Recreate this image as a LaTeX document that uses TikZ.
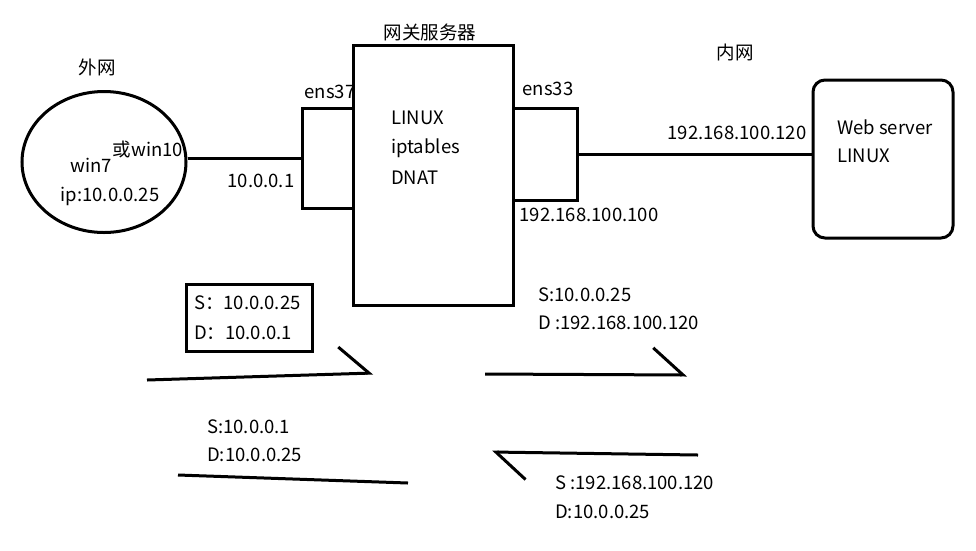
\documentclass[tikz,border=0pt]{standalone}
\usepackage{fontspec}
\setmainfont{Noto Sans CJK SC}
\usetikzlibrary{arrows.meta,positioning,shapes.geometric}

\begin{document}
\begin{tikzpicture}[x=1pt,y=-1pt,
    box/.style={draw, line width=3pt, inner sep=0pt},
    wire/.style={line width=3pt},
    flow/.style={line width=3pt, -{Straight Barb[left,length=30pt,width=54pt]}},
    lbl/.style={font=\fontsize{18.5}{20}\selectfont, inner sep=1pt}]
    \useasboundingbox[fill=white] (0,0) rectangle (976,550);

    % outside host
    \node[box, ellipse, minimum width=164, minimum height=141] (client) at (104,162) {};
    \node[lbl] (netout) at (97,67) {外网};
    \node[lbl] (alt) at (148,149) {或win10};
    \node[lbl] (win7) at (91,165) {win7};
    \node[lbl] (clientip) at (110,196) {ip:10.0.0.25};

    % gateway with its two interfaces
    \node[box, minimum width=51, minimum height=100] (ifL) at (327.5,158) {};
    \node[box, minimum width=64, minimum height=92] (ifR) at (545,154) {};
    \node[box, fill=white, minimum width=160, minimum height=260] (gw) at (433,175) {};
    \node[lbl] (gwtitle) at (430,32) {网关服务器};
    \node[lbl] (ens37) at (330,92) {ens37};
    \node[lbl] (ens33) at (548,89) {ens33};
    \node[lbl, anchor=west] (os) at (390,118) {LINUX};
    \node[lbl, anchor=west] (ipt) at (390,148) {iptables};
    \node[lbl, anchor=west] (dnat) at (390,178) {DNAT};
    \node[lbl] (ipL) at (261,181) {10.0.0.1};
    \node[lbl] (ipR) at (589,215) {192.168.100.100};

    % inside server
    \node[box, rounded corners=12pt, minimum width=140, minimum height=158] (web) at (883,159) {};
    \node[lbl] (netin) at (735,52) {内网};
    \node[lbl, anchor=west] (webname) at (836,127) {Web server};
    \node[lbl, anchor=west] (webos) at (836,156) {LINUX};
    \node[lbl] (webip) at (737,133) {192.168.100.120};

    % links
    \draw[wire] (client.east |- ifL) -- (ifL.west);
    \draw[wire] (ifR.east) -- (web.west |- ifR.east);

    % packets
    \node[box, minimum width=126, minimum height=67, inner xsep=8pt, text width=110pt,
          align=left, font=\fontsize{18.5}{30}\selectfont] (pkt1) at (249,317.5)
          {S：10.0.0.25\\D：10.0.0.1};
    \node[lbl, anchor=west] (p2s) at (537,295) {S:10.0.0.25};
    \node[lbl, anchor=west] (p2d) at (537,323) {D :192.168.100.120};
    \node[lbl, anchor=west] (p3s) at (554,483) {S :192.168.100.120};
    \node[lbl, anchor=west] (p3d) at (554,512) {D:10.0.0.25};
    \node[lbl, anchor=west] (p4s) at (206,427) {S:10.0.0.1};
    \node[lbl, anchor=west] (p4d) at (206,455) {D:10.0.0.25};

    % flow arrows
    \coordinate (f1s) at (147,380);
    \coordinate (f1e) at (373,373);
    \coordinate (f2s) at (485,374);
    \coordinate (f2e) at (687,375);
    \coordinate (f3s) at (698,455);
    \coordinate (f3e) at (492,452);
    \coordinate (f4s) at (408,483);
    \coordinate (f4e) at (178,475);
    \draw[flow] (f1s) -- (f1e);
    \draw[flow] (f2s) -- (f2e);
    \draw[flow] (f3s) -- (f3e);
    \draw[wire] (f4s) -- (f4e);
\end{tikzpicture}
\end{document}
